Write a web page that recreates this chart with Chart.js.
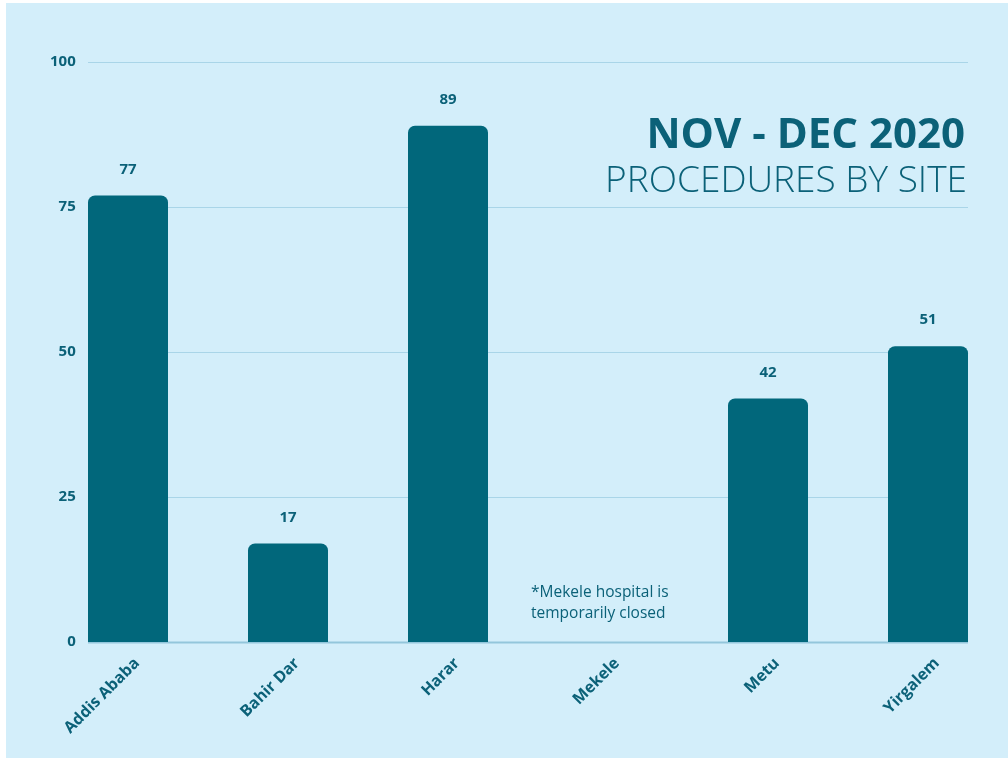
<!DOCTYPE html>
<html>
<head>
<meta charset="utf-8">
<script src="https://cdn.jsdelivr.net/npm/chart.js@4/dist/chart.umd.min.js"></script>
<style>
  html, body { margin: 0; padding: 0; background: #ffffff; width: 1008px; height: 758px; overflow: hidden; }
  #bg { position: absolute; left: 6px; top: 3px; right: 0; bottom: 0; background: #d3eefa; }
  #c { position: absolute; left: 0; top: 0; }
</style>
</head>
<body>
<div id="bg"></div>
<canvas id="c" width="1008" height="758"></canvas>
<script>
const categories = ['Addis Ababa', 'Bahir Dar', 'Harar', 'Mekele', 'Metu', 'Yirgalem'];
const procedures = [77, 17, 89, null, 42, 51];
const yTicks = [0, 25, 50, 75, 100];
const titleMain = 'NOV - DEC 2020';
const titleSub = 'PROCEDURES BY SITE';
const noteLines = ['*Mekele hospital is', 'temporarily closed'];

const TEXT = '#0b6178';
const BAR = '#01677b';
const GRID = '#a9d5e8';
const BASE = '#93c6db';
const FONT = "'Open Sans', 'Noto Sans', sans-serif";

const decorPlugin = {
  id: 'decor',
  beforeDatasetsDraw(chart) {
    const ctx = chart.ctx;
    const y = chart.scales.y;
    const meta = chart.getDatasetMeta(0);
    const first = meta.data[0], last = meta.data[meta.data.length - 1];
    const x0 = first.x - first.width / 2;
    const x1 = last.x + last.width / 2;
    ctx.save();
    yTicks.forEach(v => {
      const py = Math.round(y.getPixelForValue(v)) + 0.5;
      ctx.strokeStyle = v === 0 ? BASE : GRID;
      ctx.lineWidth = v === 0 ? 2 : 1;
      ctx.beginPath();
      ctx.moveTo(x0, py);
      ctx.lineTo(x1, py);
      ctx.stroke();
    });
    // title
    ctx.fillStyle = TEXT;
    ctx.textAlign = 'right';
    ctx.textBaseline = 'alphabetic';
    ctx.font = "700 42px " + FONT;
    ctx.fillText(titleMain, x1 - 3, 148);
    ctx.font = "300 37px " + FONT;
    ctx.fillText(titleSub, x1 - 1, 192);
    // note
    const xs = chart.scales.x;
    const nx = xs.getPixelForValue(3) - 77;
    ctx.textAlign = 'left';
    ctx.font = "400 15.5px " + FONT;
    ctx.fillText(noteLines[0], nx, 597);
    ctx.fillText(noteLines[1], nx, 618);
    ctx.restore();
  },
  afterDatasetsDraw(chart) {
    const ctx = chart.ctx;
    const meta = chart.getDatasetMeta(0);
    ctx.save();
    ctx.fillStyle = TEXT;
    ctx.textAlign = 'center';
    ctx.textBaseline = 'middle';
    ctx.font = "700 15px " + FONT;
    meta.data.forEach((b, i) => {
      const v = procedures[i];
      if (v === null || v === undefined) return;
      ctx.fillText(String(v), b.x, b.y - 26);
    });
    ctx.restore();
  }
};

new Chart(document.getElementById('c'), {
  type: 'bar',
  data: {
    labels: categories,
    datasets: [{
      data: procedures,
      backgroundColor: BAR,
      borderWidth: 0,
      borderRadius: 7,
      borderSkipped: 'bottom',
      barPercentage: 0.5,
      categoryPercentage: 1.0
    }]
  },
  options: {
    responsive: false,
    animation: false,
    devicePixelRatio: 1,
    layout: { padding: { left: 48, right: 0, top: 62, bottom: 0 } },
    plugins: { legend: { display: false }, tooltip: { enabled: false }, title: { display: false } },
    scales: {
      x: {
        grid: { display: false, drawTicks: false },
        border: { display: false },
        ticks: {
          color: TEXT,
          font: { family: FONT, size: 16, weight: '700' },
          minRotation: 45,
          maxRotation: 45,
          padding: 12,
          labelOffset: 9,
          autoSkip: false
        },
        afterFit(scale) { scale.height = 116; }
      },
      y: {
        min: 0,
        max: 100,
        grid: { display: false, drawTicks: false },
        border: { display: false },
        afterBuildTicks(scale) { scale.ticks = yTicks.map(v => ({ value: v })); },
        ticks: {
          mirror: true,
          crossAlign: 'far',
          padding: 2,
          color: TEXT,
          font: { family: FONT, size: 15, weight: '700' }
        },
        afterFit(scale) { scale.width = 0; }
      }
    }
  },
  plugins: [decorPlugin]
});
</script>
</body>
</html>
